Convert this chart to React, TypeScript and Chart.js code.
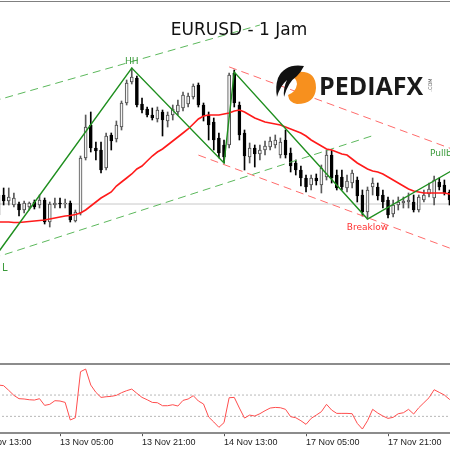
import React, { useEffect, useRef } from "react";
import { Chart, registerables } from "chart.js";

Chart.register(...registerables);

// ---------------- DATA ----------------
const TICK_INDEX = [-4, 12, 28, 44, 60, 76];
const TICK_LABELS = ["12 Nov 13:00", "13 Nov 05:00", "13 Nov 21:00", "14 Nov 13:00", "17 Nov 05:00", "17 Nov 21:00"];

const OPEN = [
  1.16025, 1.16025, 1.15995, 1.15975, 1.1598, 1.1595, 1.15965, 1.1599, 1.15975, 1.16,
  1.1589, 1.15975, 1.15985, 1.1598, 1.15985, 1.15895, 1.15935, 1.1621, 1.16375, 1.1626,
  1.1625, 1.1616, 1.16325, 1.16305, 1.16365, 1.16485, 1.1659, 1.1661, 1.1648, 1.16455,
  1.16425, 1.16405, 1.1644, 1.16395, 1.16425, 1.1644, 1.1646, 1.1648, 1.16515, 1.16575,
  1.16475, 1.16425, 1.1639, 1.1631, 1.16275, 1.16275, 1.16635, 1.16475, 1.16335, 1.16215,
  1.1626, 1.1623, 1.1625, 1.16265, 1.16275, 1.16225, 1.163, 1.16235, 1.16185, 1.1615,
  1.1611, 1.16075, 1.1611, 1.16075, 1.16115, 1.16225, 1.16125, 1.16115, 1.1606, 1.16085,
  1.161, 1.16025, 1.1594, 1.16065, 1.16065, 1.16025, 1.16, 1.1593, 1.15975, 1.15985,
  1.1599, 1.1599, 1.1595, 1.16, 1.1603, 1.1601, 1.1609, 1.16075, 1.1604, 1.16,
];
const HIGH = [
  1.16065, 1.1606, 1.1606, 1.16035, 1.1599, 1.15995, 1.1599, 1.16, 1.16025, 1.1601,
  1.1599, 1.1601, 1.1601, 1.16005, 1.15995, 1.1595, 1.1622, 1.16425, 1.1644, 1.1629,
  1.1629, 1.16335, 1.16335, 1.16395, 1.16495, 1.166, 1.1666, 1.1662, 1.1651, 1.16465,
  1.1646, 1.16465, 1.1645, 1.1644, 1.16475, 1.165, 1.1654, 1.16535, 1.1658, 1.16585,
  1.16485, 1.1644, 1.1641, 1.16335, 1.163, 1.16635, 1.1665, 1.1649, 1.1635, 1.16285,
  1.16275, 1.16275, 1.16295, 1.16315, 1.16325, 1.1631, 1.1635, 1.1626, 1.162, 1.1617,
  1.16125, 1.16125, 1.1613, 1.16175, 1.1625, 1.1625, 1.1615, 1.1615, 1.16125, 1.1615,
  1.16115, 1.1605, 1.16065, 1.1611, 1.16085, 1.1605, 1.16015, 1.16, 1.16015, 1.16015,
  1.16035, 1.16025, 1.16025, 1.1605, 1.16085, 1.1612, 1.1611, 1.161, 1.1605, 1.1602,
];
const LOW = [
  1.15835, 1.15975, 1.15975, 1.15965, 1.1592, 1.15935, 1.1595, 1.15955, 1.1596, 1.1588,
  1.15865, 1.1596, 1.1596, 1.1596, 1.1589, 1.1589, 1.15925, 1.162, 1.1624, 1.162,
  1.16135, 1.1615, 1.1625, 1.1629, 1.1635, 1.16475, 1.1658, 1.16465, 1.16435, 1.16415,
  1.164, 1.1639, 1.1632, 1.16365, 1.164, 1.16425, 1.16445, 1.16465, 1.16505, 1.16465,
  1.16395, 1.163, 1.1625, 1.1621, 1.16185, 1.1626, 1.16465, 1.163, 1.1615, 1.16185,
  1.16165, 1.162, 1.16225, 1.1625, 1.1626, 1.1621, 1.1621, 1.1614, 1.16125, 1.1607,
  1.1604, 1.1605, 1.16075, 1.16035, 1.161, 1.16085, 1.1605, 1.1605, 1.1604, 1.1606,
  1.1599, 1.1592, 1.15905, 1.16025, 1.16, 1.1596, 1.1591, 1.15915, 1.1595, 1.1596,
  1.1596, 1.1594, 1.1594, 1.1599, 1.16015, 1.15975, 1.1605, 1.16025, 1.15975, 1.1597,
];
const CLOSE = [
  1.15925, 1.15995, 1.16015, 1.1601, 1.1595, 1.15985, 1.15985, 1.15965, 1.16, 1.1589,
  1.1598, 1.15985, 1.1598, 1.15985, 1.159, 1.1594, 1.1621, 1.16365, 1.1626, 1.16245,
  1.1615, 1.1632, 1.16295, 1.16375, 1.16485, 1.16585, 1.16615, 1.16475, 1.1645, 1.16425,
  1.1641, 1.1645, 1.164, 1.16425, 1.16455, 1.16475, 1.16525, 1.1652, 1.1657, 1.16475,
  1.1642, 1.16375, 1.163, 1.16235, 1.16215, 1.16625, 1.16485, 1.16325, 1.1622, 1.1626,
  1.1623, 1.1625, 1.1627, 1.16295, 1.163, 1.1629, 1.16225, 1.1617, 1.1615, 1.1611,
  1.16065, 1.1611, 1.16095, 1.1616, 1.16225, 1.1611, 1.1606, 1.16065, 1.16095, 1.16135,
  1.1602, 1.1594, 1.1605, 1.16085, 1.1602, 1.1599, 1.15925, 1.15975, 1.1599, 1.15995,
  1.16, 1.1595, 1.16015, 1.16025, 1.16055, 1.161, 1.16065, 1.16035, 1.16, 1.1599,
];
const MOVING_AVERAGE = [
  1.1589, 1.1589, 1.1589, 1.158875, 1.158875, 1.1589, 1.158925, 1.15895, 1.158975, 1.159,
  1.15905, 1.1591, 1.15915, 1.1592, 1.159225, 1.159275, 1.15935, 1.1595, 1.1597, 1.1599,
  1.1601, 1.16025, 1.1604, 1.1607, 1.1609, 1.1611, 1.1613, 1.16155, 1.1617, 1.16195,
  1.1622, 1.1624, 1.16255, 1.16275, 1.16295, 1.16315, 1.16335, 1.16355, 1.1638, 1.16405,
  1.1642, 1.16425, 1.16425, 1.16425, 1.1643, 1.16435, 1.16445, 1.1645, 1.1644, 1.16425,
  1.1641, 1.164, 1.1639, 1.16385, 1.1638, 1.16375, 1.16365, 1.16355, 1.16345, 1.16335,
  1.1632, 1.163, 1.16285, 1.1627, 1.16255, 1.1625, 1.1624, 1.1623, 1.16225, 1.16205,
  1.16185, 1.1617, 1.16155, 1.16145, 1.1614, 1.1613, 1.16115, 1.161, 1.16085, 1.1607,
  1.16055, 1.16045, 1.1604, 1.16035, 1.16035, 1.16035, 1.16035, 1.16035, 1.1603, 1.16025,
];
const OSCILLATOR = [
  194, 188, 144, 97, 66, 63, 56, 53, 66, 3,
  13, 47, 44, 31, -134, -113, 319, 344, 194, 125,
  78, 84, 88, 97, 122, 141, 156, 116, 78, 56,
  31, 28, 0, 0, 9, -3, 50, 63, 94, 44,
  16, -106, -153, -203, -159, 75, 78, -22, -116, -88,
  -97, -75, -47, -22, -16, -19, -34, -103, -113, -141,
  -175, -119, -88, -56, 13, -41, -72, -72, -72, -75,
  -166, -219, -141, -34, -69, -97, -119, -109, -75, -66,
  -34, -78, -19, 28, 75, 150, 125, 100, 59, 38,
];
const OSC_LEVELS = [100, -100];
const PRICE_LINE = 1.1598;

const ZIGZAG_X = [0, 26, 44, 46, 72, 89];
const ZIGZAG_Y = [1.1574, 1.1666, 1.16185, 1.1664, 1.15905, 1.16155];
const UP_CHANNEL_TOP_X = [-6, 51];
const UP_CHANNEL_TOP_Y = [1.164575, 1.16875];
const UP_CHANNEL_BOTTOM_X = [-6, 73];
const UP_CHANNEL_BOTTOM_Y = [1.15668, 1.163215];
const DOWN_CHANNEL_TOP_X = [45, 93];
const DOWN_CHANNEL_TOP_Y = [1.166655, 1.162125];
const DOWN_CHANNEL_BOTTOM_X = [39, 93];
const DOWN_CHANNEL_BOTTOM_Y = [1.162245, 1.157125];

const NOTE_TEXTS = ["HH", "L", "Breaklow", "Pullback"];
const NOTE_X = [26, 0.7, 72, 84.2];
const NOTE_Y = [1.1669, 1.1566, 1.1586, 1.1623];

// ---------------- STYLE ----------------
const X_MIN = -5.564;
const X_MAX = 93.948;
const Y_MIN = 1.15185;
const Y_MAX = 1.17;
const OSC_MIN = -258;
const OSC_MAX = 382;
const GREEN = "#1f8f1f";
const NOTE_COLORS = ["#3a9a3a", "#3a9a3a", "#ff3030", "#3a9a3a"];
const NOTE_SIZES = [9, 10, 9, 9];
const NOTE_ALIGN = ["center", "left", "center", "left"];

const pts = (xs: number[], ys: number[]) => xs.map((x, i) => ({ x, y: ys[i] }));

const notesPlugin = {
  id: "notes",
  afterDatasetsDraw(chart: any) {
    const { ctx, scales } = chart;
    ctx.save();
    NOTE_TEXTS.forEach((t, i) => {
      ctx.font = `${NOTE_SIZES[i]}px "DejaVu Sans", sans-serif`;
      ctx.fillStyle = NOTE_COLORS[i];
      ctx.textAlign = NOTE_ALIGN[i];
      ctx.textBaseline = "middle";
      ctx.fillText(t, scales.x.getPixelForValue(NOTE_X[i]), scales.y.getPixelForValue(NOTE_Y[i]));
    });
    ctx.restore();
  },
};

export default function App() {
  const mainRef = useRef<HTMLCanvasElement>(null);
  const oscRef = useRef<HTMLCanvasElement>(null);

  useEffect(() => {
    const idx = OPEN.map((_, i) => i);
    const bull = idx.map((i) => CLOSE[i] >= OPEN[i]);
    const dashed = (label: string, xs: number[], ys: number[], color: string) => ({
      type: "line" as const,
      label,
      data: pts(xs, ys),
      borderColor: color,
      borderWidth: 1,
      borderDash: [8, 5],
      pointRadius: 0,
      order: 3,
    });

    const main = new Chart(mainRef.current!, {
      type: "bar",
      data: {
        datasets: [
          {
            type: "line",
            label: "Zigzag",
            data: pts(ZIGZAG_X, ZIGZAG_Y),
            borderColor: GREEN,
            borderWidth: 1.4,
            pointRadius: 0,
            order: 0,
          } as any,
          {
            type: "line",
            label: "MA",
            data: idx.map((i) => ({ x: i, y: MOVING_AVERAGE[i] })),
            borderColor: "#ff1a1a",
            borderWidth: 1.6,
            pointRadius: 0,
            order: 1,
          },
          dashed("Up channel top", UP_CHANNEL_TOP_X, UP_CHANNEL_TOP_Y, "#5cb85c"),
          dashed("Up channel bottom", UP_CHANNEL_BOTTOM_X, UP_CHANNEL_BOTTOM_Y, "#5cb85c"),
          dashed("Down channel top", DOWN_CHANNEL_TOP_X, DOWN_CHANNEL_TOP_Y, "#ff6b6b"),
          dashed("Down channel bottom", DOWN_CHANNEL_BOTTOM_X, DOWN_CHANNEL_BOTTOM_Y, "#ff6b6b"),
          {
            type: "bar",
            label: "Body",
            data: idx.map((i) => ({ x: i, y: [OPEN[i], CLOSE[i]] })),
            backgroundColor: idx.map((i) => (bull[i] ? "#f4f4f4" : "#000000")),
            borderColor: idx.map((i) => (bull[i] ? "#4a4a4a" : "#000000")),
            borderWidth: 1,
            borderSkipped: false,
            barThickness: 3,
            grouped: false,
            order: 10,
          } as any,
          {
            type: "bar",
            label: "Wick",
            data: idx.map((i) => ({ x: i, y: [LOW[i], HIGH[i]] })),
            backgroundColor: idx.map((i) => (bull[i] ? "#5a5a5a" : "#000000")),
            barThickness: 1,
            grouped: false,
            order: 11,
          } as any,
          {
            type: "line",
            label: "Price line",
            data: [
              { x: X_MIN, y: PRICE_LINE },
              { x: X_MAX, y: PRICE_LINE },
            ],
            borderColor: "#c8c8c8",
            borderWidth: 1,
            pointRadius: 0,
            order: 20,
          },
        ],
      },
      options: {
        animation: false,
        responsive: false,
        devicePixelRatio: 1,
        events: [],
        layout: { padding: 0 },
        plugins: { legend: { display: false }, tooltip: { enabled: false } },
        scales: {
          x: { type: "linear", min: X_MIN, max: X_MAX, display: false, offset: false },
          y: { min: Y_MIN, max: Y_MAX, display: false },
        },
      },
      plugins: [notesPlugin],
    });

    const osc = new Chart(oscRef.current!, {
      type: "line",
      data: {
        datasets: [
          {
            label: "Oscillator",
            data: idx.map((i) => ({ x: i, y: OSCILLATOR[i] })),
            borderColor: "#ff4d4d",
            borderWidth: 1,
            pointRadius: 0,
            order: 0,
          },
          ...OSC_LEVELS.map((lv) => ({
            label: "Level " + lv,
            data: [
              { x: X_MIN, y: lv },
              { x: X_MAX, y: lv },
            ],
            borderColor: "#b8b8b8",
            borderWidth: 1,
            borderDash: [2, 2],
            pointRadius: 0,
            order: 1,
          })),
        ],
      },
      options: {
        animation: false,
        responsive: false,
        devicePixelRatio: 1,
        events: [],
        layout: { padding: { top: 2, left: 0, right: 0, bottom: 0 } },
        plugins: { legend: { display: false }, tooltip: { enabled: false } },
        scales: {
          x: {
            type: "linear",
            min: X_MIN,
            max: X_MAX,
            afterBuildTicks: (scale: any) => {
              scale.ticks = TICK_INDEX.map((v) => ({ value: v }));
            },
            ticks: {
              align: "start",
              autoSkip: false,
              maxRotation: 0,
              padding: 1,
              color: "#222",
              font: { family: "'Liberation Sans', Arial, sans-serif", size: 9 },
              callback: (v: any) => TICK_LABELS[TICK_INDEX.indexOf(Number(v))] ?? "",
            },
            grid: { drawOnChartArea: false, drawTicks: true, tickLength: 3, color: "#555" },
            border: { display: true, color: "#8c8c8c", width: 2 },
          },
          y: { min: OSC_MIN, max: OSC_MAX, display: false },
        },
      },
    });

    return () => {
      main.destroy();
      osc.destroy();
    };
  }, []);

  return (
    <div
      style={{
        position: "fixed",
        left: 0,
        top: 0,
        width: 450,
        height: 450,
        overflow: "hidden",
        background: "#ffffff",
      }}
    >
      <canvas
        ref={mainRef}
        width={510}
        height={363}
        style={{ position: "absolute", left: -30, top: 0, width: 510, height: 363 }}
      />
      <canvas
        ref={oscRef}
        width={510}
        height={86}
        style={{ position: "absolute", left: -30, top: 363, width: 510, height: 86 }}
      />
      <div style={{ position: "absolute", left: 0, top: 1, width: 450, height: 1, background: "#808080" }} />
      <div style={{ position: "absolute", left: 0, top: 363, width: 450, height: 2, background: "#8c8c8c" }} />
      <div
        style={{
          position: "absolute",
          left: 139,
          top: 19,
          width: 200,
          textAlign: "center",
          fontFamily: "'Comic Sans MS', 'DejaVu Sans', sans-serif",
          fontSize: 17,
          lineHeight: "20px",
          color: "#111",
          whiteSpace: "nowrap",
        }}
      >
        EURUSD - 1 Jam
      </div>
      <svg
        width={450}
        height={450}
        style={{ position: "absolute", left: 0, top: 0, pointerEvents: "none" }}
      >
        <path
          d="M297 72 Q316 70 316 88 Q315 104 297 104 Q289 103 288 95 Q296 92 297 84 Q297 78 290 76 Q292 72 297 72 Z"
          fill="#f7901e"
        />
        <path
          d="M304 66 Q285 63 278 78 Q275 87 277 97 Q280 86 287 80 Q283 88 284 97 Q288 82 297 76 Q301 72 304 66 Z"
          fill="#111"
        />
      </svg>
      <div
        style={{
          position: "absolute",
          left: 319,
          top: 68,
          fontFamily: "'Open Sans', sans-serif",
          fontWeight: 700,
          fontSize: 25,
          lineHeight: "34px",
          color: "#1a1a1a",
          whiteSpace: "nowrap",
        }}
      >
        PEDIAFX
      </div>
      <div
        style={{
          position: "absolute",
          left: 420,
          top: 82,
          width: 20,
          textAlign: "center",
          fontFamily: "'DejaVu Sans', sans-serif",
          fontSize: 5,
          lineHeight: "6px",
          color: "#555",
          transform: "rotate(-90deg)",
        }}
      >
        .COM
      </div>
    </div>
  );
}
